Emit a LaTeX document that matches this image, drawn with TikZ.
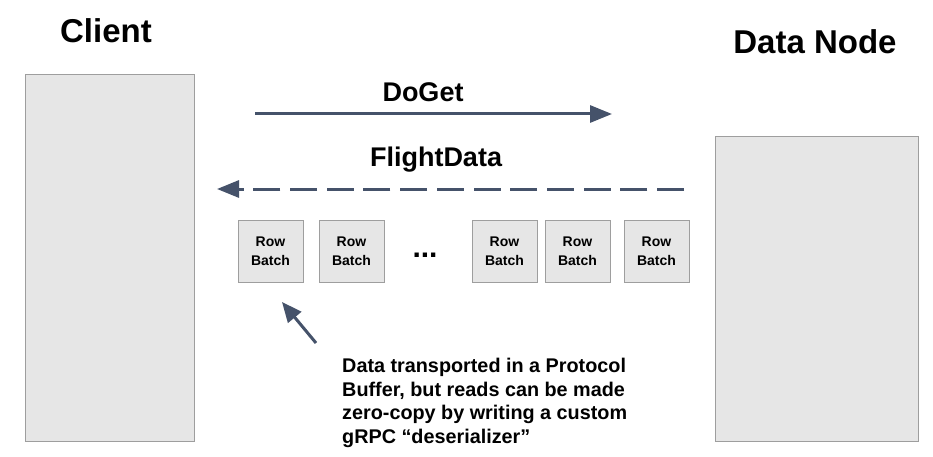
\documentclass[tikz,border=0pt]{standalone}
\usepackage{fontspec}
\setmainfont{Liberation Sans}
\usetikzlibrary{arrows.meta}
\definecolor{arrowc}{HTML}{45526A}
\definecolor{boxfill}{HTML}{E6E6E6}
\definecolor{boxline}{HTML}{9E9E9E}
\tikzset{
  bigbox/.style={draw=boxline, fill=boxfill, line width=0.8pt},
  rowbox/.style={draw=boxline, fill=boxfill, line width=0.8pt, minimum width=65pt, minimum height=62pt, inner sep=0pt, align=center, font=\bfseries\fontsize{14}{19}\selectfont},
  title/.style={font=\bfseries\fontsize{33}{38}\selectfont, anchor=base, inner sep=0pt},
  msg/.style={font=\bfseries\fontsize{27}{31}\selectfont, anchor=base, inner sep=0pt},
  arr/.style={draw=arrowc, line width=3pt, -{Triangle[length=22pt,width=17pt]}},
}
\begin{document}
\begin{tikzpicture}[x=1pt,y=-1pt]
\useasboundingbox (0,0) rectangle (933,457);
\fill[white] (0,0) rectangle (933,457);
% big boxes
\node[bigbox, minimum width=169pt, minimum height=367pt, inner sep=0pt, anchor=north west] (client) at (25,74) {};
\node[bigbox, minimum width=203pt, minimum height=305pt, inner sep=0pt, anchor=north west] (server) at (715,136) {};
% titles
\node[title] (clientT) at (106,43) {Client};
\node[title] (serverT) at (815,54) {Data Node};
% DoGet
\node[msg] (doget) at (423,102) {DoGet};
\coordinate (g1) at (255,114);
\coordinate (g2) at (612,114);
\draw[arr] (g1) -- (g2);
% FlightData
\node[msg] (fd) at (436,166.5) {FlightData};
\coordinate (f1) at (684,189);
\coordinate (f2) at (217,189);
\draw[arr, dash pattern=on 27pt off 9.7pt] (f1) -- (f2);
% row batches
\node[rowbox] (rb1) at (270.5,251) {Row\\Batch};
\node[rowbox] (rb2) at (351.5,251) {Row\\Batch};
\node[msg, font=\bfseries\fontsize{30}{34}\selectfont] (dots) at (425,257) {...};
\node[rowbox] (rb3) at (504.5,251) {Row\\Batch};
\node[rowbox] (rb4) at (577.5,251) {Row\\Batch};
\node[rowbox] (rb5) at (656.5,251) {Row\\Batch};
% note
\node[anchor=base west, inner sep=0pt, align=left, font=\bfseries\fontsize{19.8}{23.4}\selectfont] (note) at (342,443) {Data transported in a Protocol\\Buffer, but reads can be made\\zero-copy by writing a custom\\gRPC “deserializer”};
\coordinate (n1) at (316,343);
\coordinate (n2) at (282,302);
\draw[draw=arrowc, line width=3pt, -{Triangle[length=20pt,width=17pt]}] (n1) -- (n2);
\end{tikzpicture}
\end{document}
